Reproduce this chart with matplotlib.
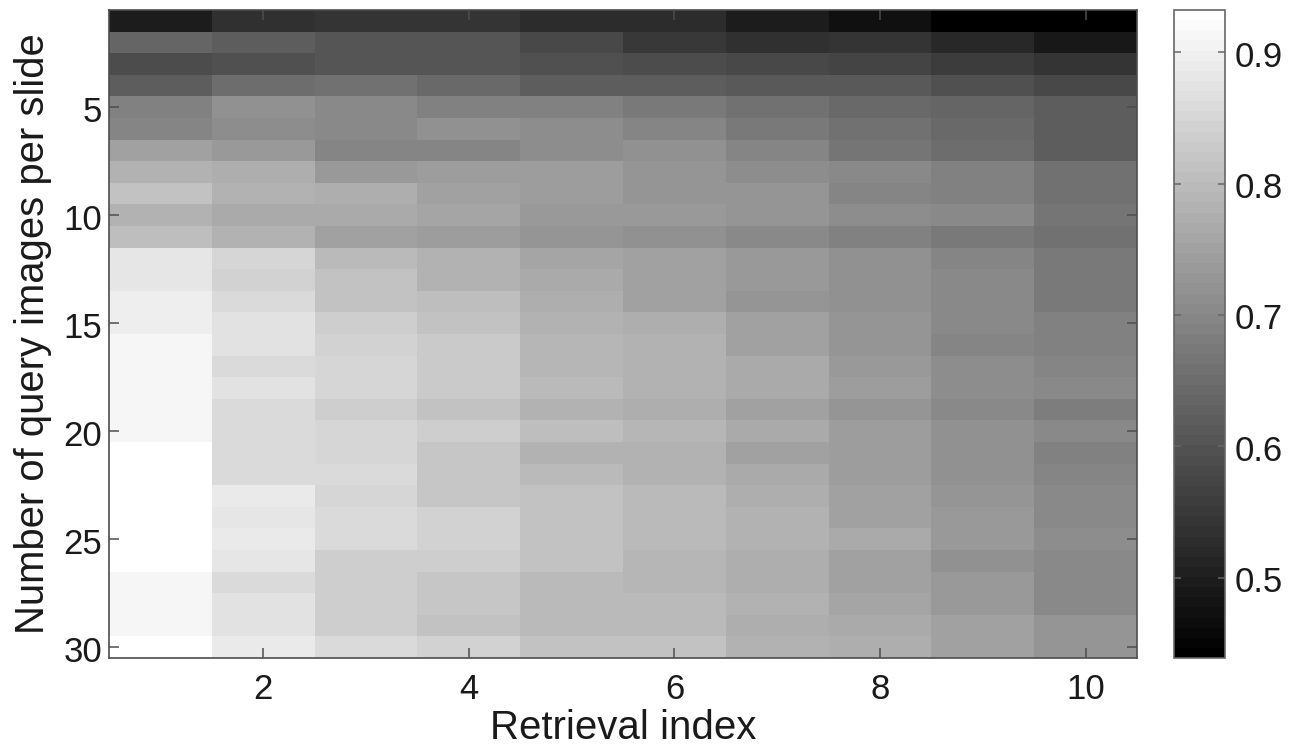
import numpy as np
import matplotlib
matplotlib.use("Agg")
import matplotlib.pyplot as plt
from matplotlib.colors import Normalize
from matplotlib.transforms import ScaledTranslation

plt.rcParams['font.family'] = ['Liberation Sans', 'DejaVu Sans']

retrieval_ticks = [2, 4, 6, 8, 10]
query_ticks = [5, 10, 15, 20, 25, 30]
cbar_ticks = [0.5, 0.6, 0.7, 0.8, 0.9]
vmin, vmax = 0.439, 0.932

accuracy = [
    [.493, .532, .543, .540, .528, .524, .493, .470, .443, .439],
    [.632, .617, .601, .601, .578, .551, .532, .540, .520, .489],
    [.590, .598, .601, .601, .598, .590, .582, .570, .559, .540],
    [.623, .652, .655, .640, .617, .621, .613, .609, .598, .582],
    [.686, .721, .706, .690, .686, .675, .655, .644, .632, .617],
    [.694, .710, .706, .721, .713, .694, .675, .659, .640, .621],
    [.748, .733, .698, .698, .713, .721, .698, .663, .648, .621],
    [.779, .775, .733, .741, .744, .729, .713, .702, .690, .655],
    [.810, .779, .771, .748, .741, .729, .725, .694, .686, .659],
    [.783, .768, .768, .756, .733, .733, .729, .710, .702, .667],
    [.806, .783, .752, .744, .729, .721, .702, .690, .671, .659],
    [.884, .849, .799, .779, .756, .752, .733, .717, .694, .675],
    [.884, .845, .810, .783, .768, .752, .733, .717, .702, .675],
    [.899, .857, .814, .802, .771, .752, .725, .717, .702, .675],
    [.899, .872, .833, .810, .783, .771, .748, .729, .702, .686],
    [.915, .876, .841, .826, .787, .779, .748, .729, .698, .690],
    [.915, .857, .849, .826, .787, .783, .764, .733, .710, .698],
    [.915, .872, .849, .826, .795, .783, .764, .741, .710, .702],
    [.915, .857, .837, .814, .779, .771, .752, .729, .706, .683],
    [.915, .857, .849, .833, .806, .787, .768, .744, .717, .702],
    [.932, .857, .849, .822, .783, .779, .752, .741, .717, .690],
    [.932, .857, .857, .822, .795, .779, .768, .741, .717, .698],
    [.932, .887, .849, .822, .810, .799, .775, .748, .725, .706],
    [.932, .880, .857, .841, .810, .799, .783, .748, .737, .706],
    [.932, .887, .857, .841, .810, .799, .783, .764, .737, .710],
    [.932, .880, .833, .833, .810, .791, .775, .748, .721, .706],
    [.915, .857, .837, .822, .799, .791, .775, .748, .737, .706],
    [.915, .872, .833, .822, .799, .799, .779, .756, .737, .706],
    [.915, .872, .833, .814, .799, .795, .775, .764, .748, .725],
    [.932, .887, .860, .845, .810, .814, .783, .771, .748, .729],
]

W, H = 1301, 749
TEXT = '#1a1a1a'
EDGE = '#4d4d4d'
fig = plt.figure(figsize=(W / 100, H / 100), dpi=100, facecolor='white')
ax = fig.add_axes([109 / W, 1 - 658 / H, (1137 - 109) / W, (658 - 10) / H])
cax = fig.add_axes([1174 / W, 1 - 658 / H, (1225 - 1174) / W, (658 - 10) / H])

cmap = plt.get_cmap('gray', 64)
norm = Normalize(vmin, vmax)
data = np.array(accuracy)
im = ax.imshow(data, cmap=cmap, norm=norm, aspect='auto', interpolation='nearest',
               extent=(0.5, 10.5, 30.5, 0.5))
ax.set_xticks(retrieval_ticks)
ax.set_yticks(query_ticks)
ax.tick_params(direction='in', top=True, right=True, length=7.5, width=1.1, labelsize=25,
               color=EDGE, labelcolor=TEXT)
ax.tick_params(axis='x', pad=10.5)
ax.tick_params(axis='y', pad=5)
ax.set_xlabel('Retrieval index', fontsize=29, color=TEXT, labelpad=2.5)
ax.set_ylabel('Number of query images per slide', fontsize=28.8, color=TEXT, labelpad=8.3)

cb = fig.colorbar(im, cax=cax, ticks=cbar_ticks)
cb.ax.tick_params(direction='in', length=5, width=1.1, labelsize=25, left=True, right=True,
                  color='#666666', labelcolor=TEXT, pad=7)
cb.ax.set_yticklabels([f'{t:.1f}' for t in cbar_ticks])
cb.outline.set_linewidth(1.2)
cb.outline.set_edgecolor('#666666')
for s in ax.spines.values():
    s.set_linewidth(1.2)
    s.set_color(EDGE)

shift = ScaledTranslation(0, -1.5 / 100, fig.dpi_scale_trans)
for lab in ax.get_yticklabels() + cb.ax.get_yticklabels():
    lab.set_transform(lab.get_transform() + shift)

fig.savefig('out.png', dpi=100)
